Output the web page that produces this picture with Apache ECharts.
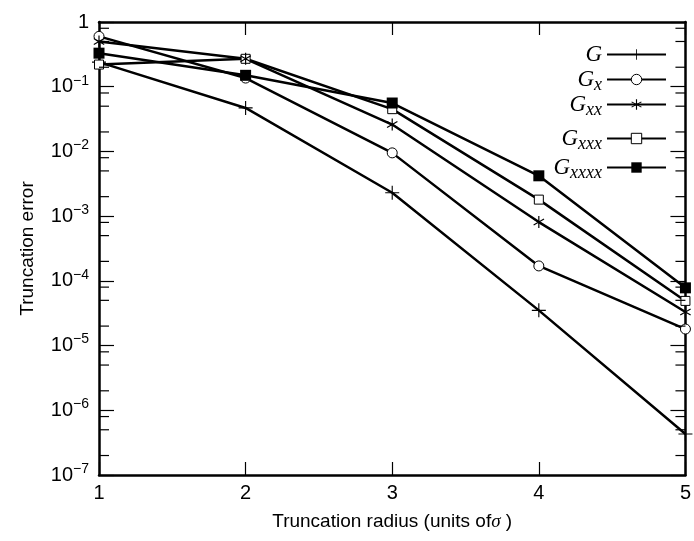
<!DOCTYPE html>
<html>
<head>
<meta charset="UTF-8">
<title>Truncation error</title>
<script src="https://cdn.jsdelivr.net/npm/echarts@6/dist/echarts.min.js"></script>
</head>
<body style="margin:0">
<div id="main" style="width:694px;height:541px;"></div>

<script type="text/javascript">
// truncation radius (units of sigma)
var radius = [1, 2, 3, 4, 5];
// truncation error per kernel
var errG     = [0.24, 0.047, 0.0023, 3.5e-5, 4.3e-7];
var errGx    = [0.6, 0.136, 0.0095, 1.7e-4, 1.8e-5];
var errGxx   = [0.5, 0.27, 0.026, 8.1e-4, 3.3e-5];
var errGxxx  = [0.22, 0.27, 0.045, 1.8e-3, 4.9e-5];
var errGxxxx = [0.33, 0.15, 0.056, 4.2e-3, 7.8e-5];
var names = ['G', 'Gx', 'Gxx', 'Gxxx', 'Gxxxx'];
// minor ticks inside each decade
var minorMult = [2, 5, 8];
var decades = [-7, -6, -5, -4, -3, -2, -1];

var mychart = echarts.init(document.getElementById('main'));

// thin filled arms for + and * markers
function armsPath(angles, t) {
  var d = '';
  angles.forEach(function (a) {
    var r = a * Math.PI / 180;
    var dx = Math.cos(r), dy = Math.sin(r);
    var nx = -dy * t, ny = dx * t;
    var pts = [[dx + nx, dy + ny], [dx - nx, dy - ny], [-dx - nx, -dy - ny], [-dx + nx, -dy + ny]];
    d += 'M' + pts.map(function (p) { return p[0].toFixed(3) + ',' + p[1].toFixed(3); }).join('L') + 'Z';
  });
  return 'path://' + d;
}
var plusSym = armsPath([0, 90], 0.08);
var starSym = armsPath([90, 30, 150], 0.1);

function pairs(vals) {
  return radius.map(function (x, i) { return [x, vals[i]]; });
}

var minorTicks = [];
decades.forEach(function (e) {
  minorMult.forEach(function (m) { minorTicks.push([1, m * Math.pow(10, e)]); });
});

var sans = 'Liberation Sans';
var serif = 'Liberation Serif';

function legendLabel(n) {
  var s = n.slice(1);
  return '{g|G}' + (s ? '{s|' + s + '}' : '');
}

var legendY = [50, 75, 100, 134, 163];

function lineSeries(name, vals, sym, size, fill) {
  return {
    name: name,
    type: 'line',
    data: pairs(vals),
    symbol: sym,
    symbolSize: size,
    symbolKeepAspect: true,
    lineStyle: { color: '#000', width: 2.5 },
    itemStyle: fill === '#fff' ? { color: '#fff', borderColor: '#000', borderWidth: 1 } : { color: '#000', borderWidth: 0 },
    animation: false
  };
}

var axisLine = { show: true, lineStyle: { color: '#000', width: 2.5 } };

var option = {
  animation: false,
  grid: { left: 99, right: 5, top: 22, bottom: 66 },
  legend: names.map(function (n, i) {
    return {
      data: [n],
      right: 27,
      top: legendY[i] - 7,
      orient: 'vertical',
      align: 'right',
      padding: 0,
      itemWidth: 59,
      itemHeight: 13,
      selectedMode: false,
      formatter: legendLabel,
      itemStyle: { borderWidth: 1 },
      textStyle: {
        color: '#000',
        rich: {
          g: { fontFamily: serif, fontStyle: 'italic', fontSize: 23, lineHeight: 30, color: '#000' },
          s: { fontFamily: serif, fontStyle: 'italic', fontSize: 18, lineHeight: 17, verticalAlign: 'bottom', color: '#000' }
        }
      }
    };
  }),
  xAxis: [{
    type: 'value', min: 1, max: 5, interval: 1, position: 'bottom',
    axisLine: axisLine,
    axisTick: { inside: true, length: 13, lineStyle: { color: '#000', width: 1.2 } },
    axisLabel: { fontFamily: sans, fontSize: 20, color: '#000', margin: 8 },
    splitLine: { show: false },
    name: '{a|Truncation radius (units of}{b|σ}{a| )}',
    nameLocation: 'middle',
    nameGap: 37,
    nameTextStyle: {
      rich: {
        a: { fontFamily: sans, fontSize: 19, color: '#000' },
        b: { fontFamily: serif, fontStyle: 'italic', fontSize: 19, color: '#000' }
      }
    }
  }, {
    type: 'value', min: 1, max: 5, interval: 1, position: 'top',
    axisLine: axisLine,
    axisTick: { inside: true, length: 13, lineStyle: { color: '#000', width: 1.2 } },
    axisLabel: { show: false },
    splitLine: { show: false }
  }],
  yAxis: [{
    type: 'log', logBase: 10, min: 1e-7, max: 1, splitNumber: 7, position: 'left',
    axisLine: axisLine,
    axisTick: { inside: true, length: 15, lineStyle: { color: '#000', width: 1.2 } },
    axisLabel: {
      margin: 10,
      formatter: function (v) {
        var e = Math.round(Math.log10(v));
        if (e === 0) return '{b|1}';
        return '{b|10}{p|\u2212' + (-e) + '}';
      },
      rich: {
        b: { fontFamily: sans, fontSize: 20, lineHeight: 26, color: '#000' },
        p: { fontFamily: sans, fontSize: 14, lineHeight: 14, verticalAlign: 'top', color: '#000' }
      }
    },
    splitLine: { show: false },
    name: 'Truncation error',
    nameLocation: 'middle',
    nameGap: 62,
    nameTextStyle: { fontFamily: sans, fontSize: 19, color: '#000' }
  }, {
    type: 'log', logBase: 10, min: 1e-7, max: 1, splitNumber: 7, position: 'right',
    axisLine: axisLine,
    axisTick: { inside: true, length: 15, lineStyle: { color: '#000', width: 1.2 } },
    axisLabel: { show: false },
    splitLine: { show: false }
  }],
  series: [
    lineSeries('G', errG, plusSym, 14, '#000'),
    lineSeries('Gx', errGx, 'circle', 10, '#fff'),
    lineSeries('Gxxx', errGxxx, 'rect', 9, '#fff'),
    lineSeries('Gxx', errGxx, starSym, 12, '#000'),
    lineSeries('Gxxxx', errGxxxx, 'rect', 11, '#000'),
    {
      // minor log ticks on left and right frame
      type: 'custom',
      silent: true,
      data: minorTicks,
      z: 5,
      renderItem: function (params, api) {
        var v = api.value(1);
        var l = api.coord([1, v]);
        var r = api.coord([5, v]);
        var st = { stroke: '#000', lineWidth: 1.2 };
        return {
          type: 'group',
          children: [
            { type: 'line', shape: { x1: l[0], y1: l[1], x2: l[0] + 10, y2: l[1] }, style: st },
            { type: 'line', shape: { x1: r[0] - 10, y1: r[1], x2: r[0], y2: r[1] }, style: st }
          ]
        };
      },
      animation: false
    }
  ]
};

mychart.setOption(option);
</script>
</body>
</html>
